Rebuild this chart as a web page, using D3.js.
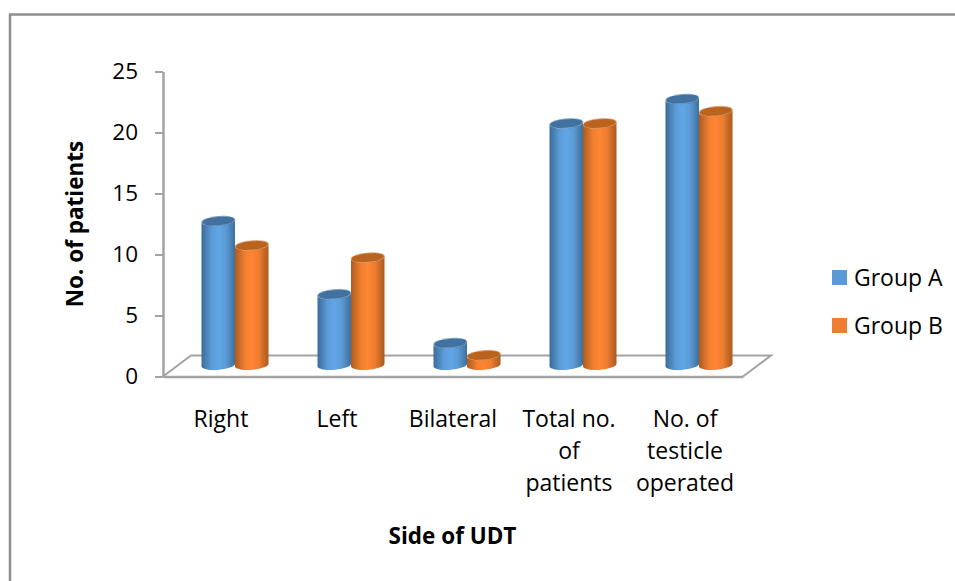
<!DOCTYPE html>
<html>
<head>
<meta charset="utf-8">
<script src="https://cdn.jsdelivr.net/npm/d3@7"></script>
<style>
  html, body { margin: 0; padding: 0; background: #fff; }
  svg { display: block; }
  text { font-family: "Open Sans", sans-serif; fill: #000; }
</style>
</head>
<body>
<div id="chart"></div>
<script>
// chart values
var categories = ["Right", "Left", "Bilateral", "Total no. of patients", "No. of testicle operated"];
var categoryLines = [["Right"], ["Left"], ["Bilateral"], ["Total no.", "of", "patients"], ["No. of", "testicle", "operated"]];
var groupA = [12, 6, 2, 20, 22];
var groupB = [10, 9, 1, 20, 21];
var seriesNames = ["Group A", "Group B"];
var yTicks = [0, 5, 10, 15, 20, 25];

var width = 955, height = 581;
var axisColor = "#a3a3a3";

// plot box (front edge of the floor) and the 3d shift of the back edge
var margin = { top: 71.5, left: 163, right: 212, bottom: 204.5 };
var depthX = 28, depthY = 21;
var barW = 33.5, ellipseRy = 4.8;

var svg = d3.select("#chart")
    .append("svg")
    .attr("width", width)
    .attr("height", height);

var x = d3.scaleBand()
    .domain(categories)
    .range([margin.left, width - margin.right]);

var y = d3.scaleLinear()
    .domain([0, 25])
    .range([height - margin.bottom, margin.top]);

var group = d3.scaleBand()
    .domain(seriesNames)
    .range([0, barW * 2]);

// gradients for the cylinders
var defs = svg.append("defs");
var gradients = [
    { id: "gradA", stops: ["#3c6b99", "#5a9bd8", "#62a6e8", "#5b9bd5", "#3e6f9e"], top: "#41719f" },
    { id: "gradB", stops: ["#ac5b1f", "#f27f30", "#ff8632", "#ec7c30", "#a85a20"], top: "#b9631f" }
];
gradients.forEach(function (g) {
    var grad = defs.append("linearGradient").attr("id", g.id);
    g.stops.forEach(function (c, i) {
        grad.append("stop").attr("offset", [0, 0.3, 0.5, 0.72, 1][i]).attr("stop-color", c);
    });
});
defs.append("filter").attr("id", "soft")
    .append("feGaussianBlur").attr("stdDeviation", 0.5);

// outer frame, only top and left are in the picture
svg.append("path")
    .attr("d", "M10,581V14.5H955")
    .attr("fill", "none")
    .attr("stroke", "#8f8f8f")
    .attr("stroke-width", 2.5);

// floor
var x0 = margin.left, x1 = width - margin.right, yBase = y(0);
svg.append("path")
    .attr("d", "M" + x0 + "," + yBase + "L" + (x0 + depthX) + "," + (yBase - depthY) +
        "H" + (x1 + depthX) + "L" + x1 + "," + yBase)
    .attr("fill", "none")
    .attr("stroke", axisColor)
    .attr("stroke-width", 2);

// Add Y axis
var yAxis = svg.append("g")
    .attr("transform", "translate(" + margin.left + ",0)")
    .call(d3.axisLeft(y).tickValues(yTicks).tickSize(8).tickSizeOuter(0).tickPadding(17));
yAxis.selectAll("line").attr("stroke", axisColor).attr("stroke-width", 2);
yAxis.select(".domain").attr("stroke", axisColor).attr("stroke-width", 2.5);
yAxis.selectAll("text").style("font-size", "22.5px").attr("fill", "#000");

// Add X axis, labels are broken over lines below
var xAxis = svg.append("g")
    .attr("transform", "translate(0," + yBase + ")")
    .call(d3.axisBottom(x).tickSize(0).tickFormat(""));
xAxis.select(".domain").attr("stroke", axisColor).attr("stroke-width", 2.5);
xAxis.selectAll(".tick text").remove();

svg.append("g")
    .selectAll("text")
    .data(categories)
    .enter()
    .append("text")
    .attr("text-anchor", "middle")
    .style("font-size", "23px")
    .each(function (d, i) {
        var cx = x(d) + x.bandwidth() / 2;
        d3.select(this).selectAll("tspan")
            .data(categoryLines[i])
            .enter()
            .append("tspan")
            .attr("x", cx)
            .attr("y", function (l, j) { return 427 + j * 32; })
            .text(function (l) { return l; });
    });

// one cylinder, side and lid
function drawBar(parent, cat, val, s, idx) {
    var left = x(cat) + x.bandwidth() / 2 + 14 - barW + group(s);
    var right = left + barW;
    var rx = barW / 2;
    var shift = 11.5; // floor middle sits above the front edge
    var yTop = y(val) - shift + 2.5; // lid sits a bit under the gridline height
    var yBot = y(0) - shift;
    var tilt = 1.6; // ellipses lean up to the right
    var g = parent.append("g");
    g.append("path")
        .attr("d", "M" + left + "," + (yTop + tilt) + "L" + left + "," + (yBot + tilt) +
            "A" + rx + "," + ellipseRy + " -5 0 0 " + right + "," + (yBot - tilt) +
            "L" + right + "," + (yTop - tilt) +
            "A" + rx + "," + ellipseRy + " -5 0 1 " + left + "," + (yTop + tilt) + "Z")
        .attr("fill", "url(#" + gradients[idx].id + ")")
        .attr("filter", "url(#soft)");
    g.append("ellipse")
        .attr("rx", rx)
        .attr("ry", ellipseRy)
        .attr("transform", "translate(" + (left + rx) + "," + yTop + ") rotate(-5)")
        .attr("fill", gradients[idx].top)
        .attr("filter", "url(#soft)");
}

var bars = svg.append("g");
categories.forEach(function (c, i) {
    drawBar(bars, c, groupA[i], seriesNames[0], 0);
    drawBar(bars, c, groupB[i], seriesNames[1], 1);
});

// Add axis labels
svg.append("text")
    .attr("text-anchor", "middle")
    .attr("x", 452.5)
    .attr("y", 544)
    .style("font-size", "22.5px")
    .style("font-weight", "bold")
    .text("Side of UDT");

svg.append("text")
    .attr("text-anchor", "middle")
    .attr("transform", "translate(83,224) rotate(-90)")
    .style("font-size", "22.5px")
    .style("font-weight", "bold")
    .text("No. of patients");

// Creating legend
var legend = svg.append("g");
var legendColors = ["#5b9bd5", "#ed7d31"];
legend.selectAll("rect")
    .data(seriesNames)
    .enter()
    .append("rect")
    .attr("x", 832)
    .attr("y", function (d, i) { return 270 + i * 48; })
    .attr("width", 15)
    .attr("height", 15)
    .style("fill", function (d, i) { return legendColors[i]; });

legend.selectAll("text")
    .data(seriesNames)
    .enter()
    .append("text")
    .attr("x", 854)
    .attr("y", function (d, i) { return 286 + i * 48; })
    .style("font-size", "23px")
    .text(function (d) { return d; });
</script>
</body>
</html>
